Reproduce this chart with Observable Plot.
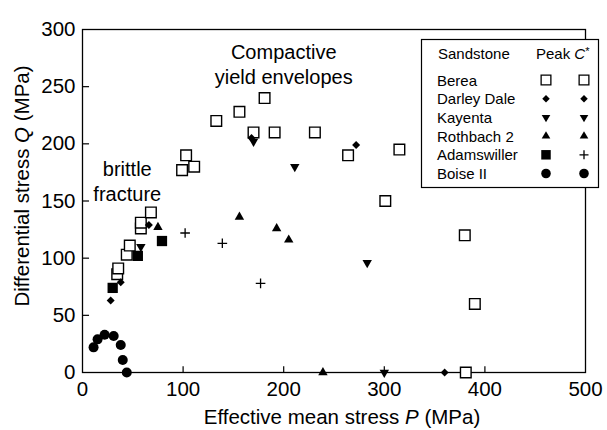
<!DOCTYPE html>
<html><head><meta charset="utf-8">
<script src="https://cdn.jsdelivr.net/npm/d3@7"></script>
<script src="https://cdn.jsdelivr.net/npm/@observablehq/plot@0.6"></script>
<style>
body{margin:0;background:#fff;}
#chart{width:607px;height:430px;}
</style></head><body><div id="chart"></div>
<script>
// ---- data ----
const xTicks = [0, 100, 200, 300, 400, 500];
const yTicks = [0, 50, 100, 150, 200, 250, 300];
const sandstones = ["Berea", "Darley Dale", "Kayenta", "Rothbach 2", "Adamswiller", "Boise II"];
const bereaP = [34.5, 35.5, 44, 47, 58, 58, 68, 99, 103, 111, 133, 156, 170, 181, 191, 231, 264, 301, 315, 380, 390, 381];
const bereaQ = [86, 91, 103, 111, 126, 131, 140, 177, 190, 180, 220, 228, 210, 240, 210, 210, 190, 150, 195, 120, 60, 0];
const darleyP = [28, 38, 66, 168, 272, 360];
const darleyQ = [63, 79, 129, 205, 199, 0];
const kayentaP = [58, 170, 211, 283, 300];
const kayentaQ = [110, 202, 180, 96, 0];
const rothbachP = [75, 156, 193, 205, 239];
const rothbachQ = [127, 136, 126, 116, 0];
const adamsPeakP = [30, 55, 79];
const adamsPeakQ = [74, 102, 115];
const adamsCP = [102, 139, 177];
const adamsCQ = [122, 113, 78];
const boiseP = [11, 15, 22, 31, 38, 40, 44];
const boiseQ = [22, 29, 33, 32, 24, 11, 0];

const rows = (P, Q) => P.map((p, i) => ({P: p, Q: Q[i]}));
const FONT = "Liberation Sans, Arial, Helvetica, sans-serif";

const plot = Plot.plot({
  width: 607, height: 430,
  marginLeft: 82, marginRight: 22, marginTop: 29, marginBottom: 58,
  style: {fontFamily: FONT, fontSize: "20.5px", color: "black", background: "white", overflow: "visible"},
  x: {domain: [0, 500], ticks: xTicks, tickSize: 0, tickPadding: 9, label: null},
  y: {domain: [0, 300], ticks: yTicks, tickSize: 0, tickPadding: 7, label: null},
  marks: [
    Plot.ruleX(xTicks.slice(1, -1), {y1: 0, y2: 5, stroke: "black", strokeWidth: 1.2}),
    Plot.ruleY(yTicks.slice(1, -1), {x1: 0, x2: 7, stroke: "black", strokeWidth: 1.2}),
    Plot.frame({stroke: "black", strokeWidth: 1.3}),
    Plot.text(["Compactive\nyield envelopes"], {x: 200, y: 270, text: d => d, fontSize: 20, lineHeight: 1.22, fill: "black"}),
    Plot.text(["brittle\nfracture"], {x: 44.5, y: 168, text: d => d, fontSize: 20, lineHeight: 1.25, fill: "black"}),
    Plot.dot(rows(boiseP, boiseQ), {x: "P", y: "Q", symbol: "circle", r: 5, fill: "black", stroke: "none"}),
    Plot.dot(rows(bereaP, bereaQ), {x: "P", y: "Q", symbol: "square", r: 6, fill: "white", stroke: "black", strokeWidth: 1.4}),
    Plot.dot(rows(darleyP, darleyQ), {x: "P", y: "Q", symbol: "diamond2", r: 3.6, fill: "black", stroke: "none"}),
    Plot.dot(rows(kayentaP, kayentaQ), {x: "P", y: "Q", symbol: "triangle", rotate: 180, r: 3.5, fill: "black", stroke: "none"}),
    Plot.dot(rows(rothbachP, rothbachQ), {x: "P", y: "Q", symbol: "triangle", r: 3.5, fill: "black", stroke: "none"}),
    Plot.dot(rows(adamsPeakP, adamsPeakQ), {x: "P", y: "Q", symbol: "square", r: 5.8, fill: "black", stroke: "none"}),
    Plot.dot(rows(adamsCP, adamsCQ), {x: "P", y: "Q", symbol: "plus", r: 3.2, fill: "none", stroke: "black", strokeWidth: 1.3})
  ]
});
document.getElementById("chart").appendChild(plot);

const svg = d3.select(plot);
svg.selectAll("text").attr("fill", "black");

// axis titles with italic variables
const xt = svg.append("text").attr("x", 342).attr("y", 424).attr("text-anchor", "middle")
  .attr("font-family", FONT).attr("font-size", 20.5).attr("fill", "black");
xt.append("tspan").text("Effective mean stress ");
xt.append("tspan").attr("font-style", "italic").text("P");
xt.append("tspan").text(" (MPa)");

const yt = svg.append("text").attr("transform", "translate(29,186) rotate(-90)").attr("text-anchor", "middle")
  .attr("font-family", FONT).attr("font-size", 20.5).attr("fill", "black");
yt.append("tspan").text("Differential stress ");
yt.append("tspan").attr("font-style", "italic").text("Q");
yt.append("tspan").text(" (MPa)");

// legend
const lg = svg.append("g").attr("font-family", FONT).attr("font-size", 15).attr("fill", "black")
  .attr("text-anchor", "start");
lg.append("rect").attr("x", 421.5).attr("y", 39.5).attr("width", 177).attr("height", 148)
  .attr("fill", "white").attr("stroke", "black").attr("stroke-width", 1.2);
lg.append("text").attr("x", 438).attr("y", 59).text("Sandstone");
const hd = lg.append("text").attr("x", 536).attr("y", 59);
hd.append("tspan").text("Peak ");
hd.append("tspan").attr("font-style", "italic").text("C");
hd.append("tspan").attr("dy", -4).attr("font-size", 11).text("*");

const sym = (type, size) => d3.symbol().type(type).size(size)();
const legendSyms = [
  [{t: d3.symbolSquare, s: 95, fill: "white", stroke: "black"}, {t: d3.symbolSquare, s: 95, fill: "white", stroke: "black"}],
  [{t: d3.symbolDiamond2, s: 36, fill: "black"}, {t: d3.symbolDiamond2, s: 36, fill: "black"}],
  [{t: d3.symbolTriangle, s: 32, fill: "black", rot: 180}, {t: d3.symbolTriangle, s: 32, fill: "black", rot: 180}],
  [{t: d3.symbolTriangle, s: 32, fill: "black"}, {t: d3.symbolTriangle, s: 32, fill: "black"}],
  [{t: d3.symbolSquare, s: 90, fill: "black"}, {t: d3.symbolPlus, s: 34, fill: "none", stroke: "black"}],
  [{t: d3.symbolCircle, s: 72, fill: "black"}, {t: d3.symbolCircle, s: 72, fill: "black"}]
];
sandstones.forEach((name, i) => {
  const cy = 80 + i * 18.7;
  lg.append("text").attr("x", 437).attr("y", cy + 5.5).text(name);
  legendSyms[i].forEach((s, j) => {
    const cx = j === 0 ? 546 : 584;
    let path;
    if (s.t === d3.symbolPlus) {
      path = "M-4.5,0H4.5M0,-4.5V4.5";
    } else path = sym(s.t, s.s);
    lg.append("path").attr("d", path)
      .attr("transform", `translate(${cx},${cy})${s.rot ? " rotate(" + s.rot + ")" : ""}`)
      .attr("fill", s.fill).attr("stroke", s.stroke || "none").attr("stroke-width", s.stroke ? 1.3 : 0);
  });
});
</script></body></html>
